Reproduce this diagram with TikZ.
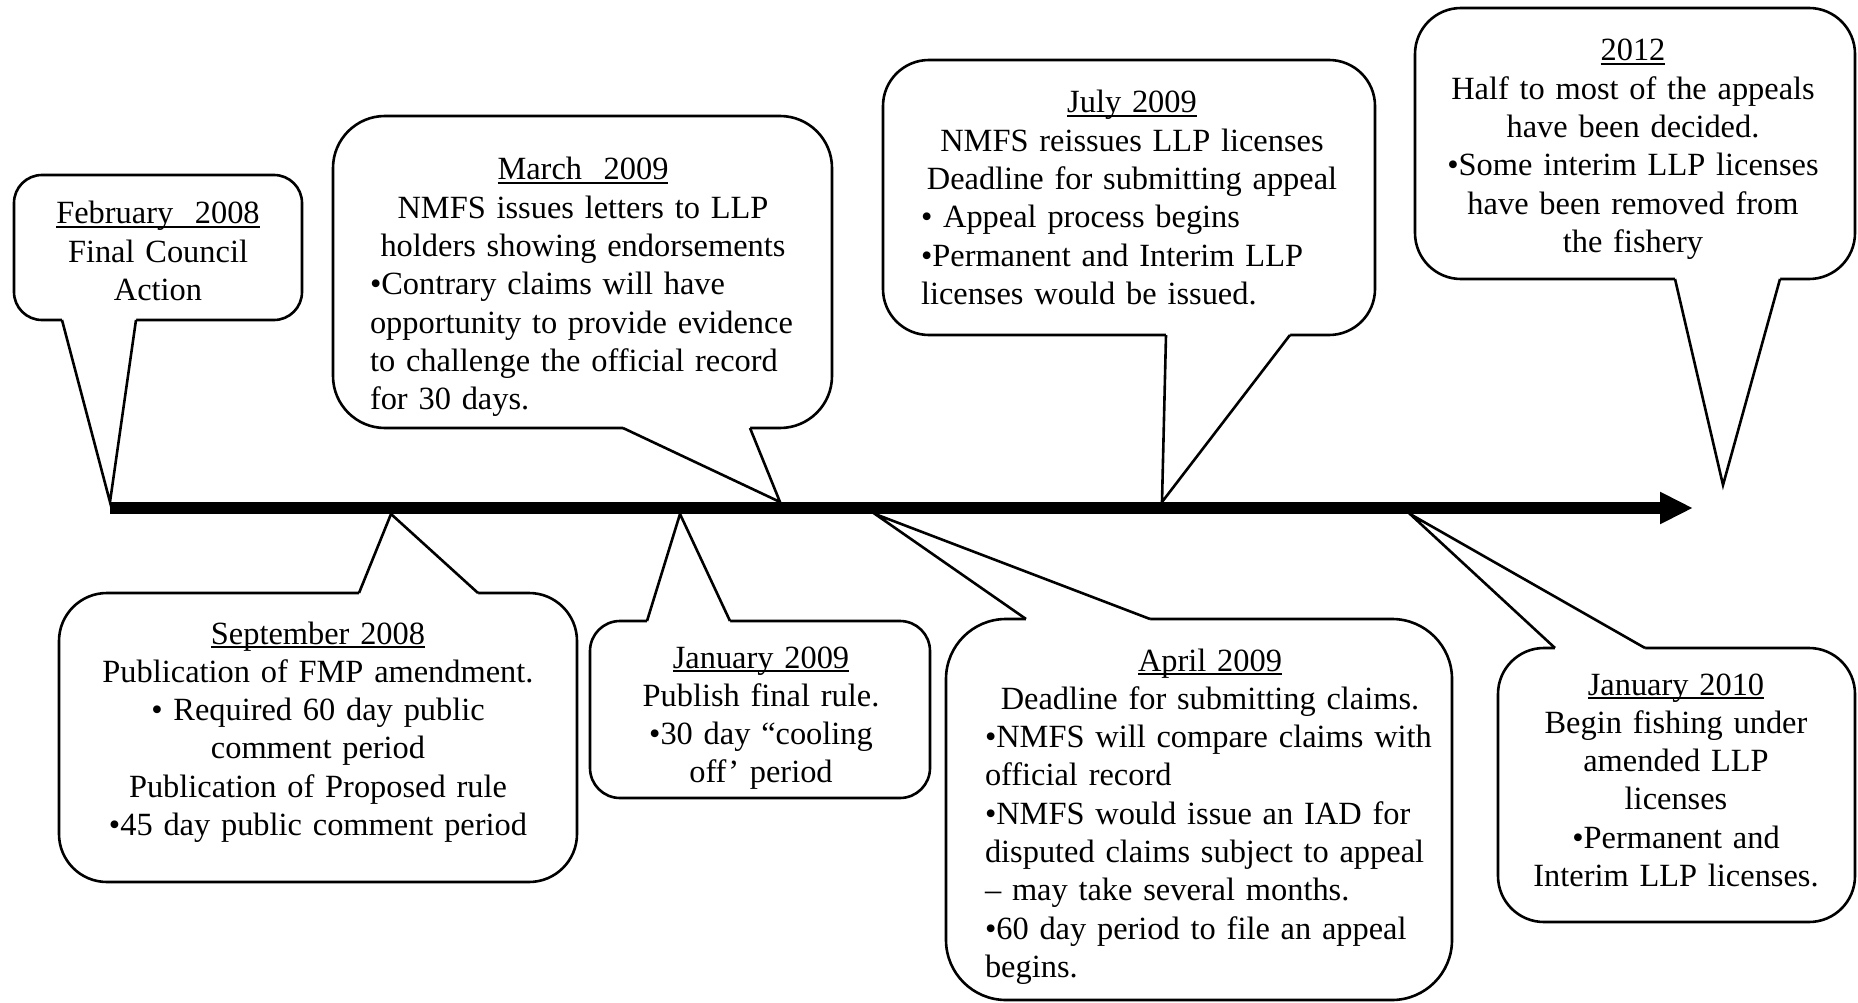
\documentclass[tikz,border=0pt]{standalone}
\usepackage{fontspec}
\setmainfont{Liberation Serif}
\usetikzlibrary{arrows.meta}
\newcommand\ulx[1]{\setbox0=\hbox{#1}\rlap{\rule[-4pt]{\wd0}{1.8pt}}\box0}
\tikzset{
  bubble/.style={draw=black, fill=white, line width=2.6pt},
  ptr/.style={draw=black, line width=2.6pt, line join=miter},
  txt/.style={anchor=base, inner sep=0pt, font=\fontsize{32.4}{38.3}\selectfont, text width=#1},
  timeline/.style={line width=12pt, -{Triangle[length=33pt,width=30pt]}},
}
\begin{document}
\begin{tikzpicture}[x=1pt,y=-1pt]
\useasboundingbox (0,0) rectangle (1858,1003);

% ---------- February 2008 ----------
\coordinate (feb-b1) at (62,320);
\coordinate (feb-tip) at (110,502);
\coordinate (feb-b2) at (136,320);
\draw[bubble, rounded corners=28pt] (14,175) rectangle (302,320);
\fill[white] (feb-b1) -- (feb-tip) -- (feb-b2) -- ([yshift=4pt]feb-b2) -- ([yshift=4pt]feb-b1) -- cycle;
\draw[ptr] (feb-b1) -- (feb-tip) -- (feb-b2);
\node[txt=280pt] (feb) at (158,224) {\centering\ulx{February~~2008}\\Final Council\\Action\par};

% ---------- March 2009 ----------
\coordinate (mar-b1) at (623,428);
\coordinate (mar-tip) at (780,502);
\coordinate (mar-b2) at (750,428);
\draw[bubble, rounded corners=52pt] (333,116) rectangle (832,428);
\fill[white] (mar-b1) -- (mar-tip) -- (mar-b2) -- ([yshift=4pt]mar-b2) -- ([yshift=4pt]mar-b1) -- cycle;
\draw[ptr] (mar-b1) -- (mar-tip) -- (mar-b2);
\node[txt=426pt] (mar) at (583,180) {\centering\ulx{March~~2009}\\NMFS issues letters to LLP\\holders showing endorsements\par\raggedright •Contrary claims will have\\opportunity to provide evidence\\to challenge the official record\\for 30 days.\par};

% ---------- July 2009 ----------
\coordinate (jul-b1) at (1166,335);
\coordinate (jul-tip) at (1162,502);
\coordinate (jul-b2) at (1290,335);
\draw[bubble, rounded corners=46pt] (883,60) rectangle (1375,335);
\fill[white] (jul-b1) -- (jul-tip) -- (jul-b2) -- ([yshift=4pt]jul-b2) -- ([yshift=4pt]jul-b1) -- cycle;
\draw[ptr] (jul-b1) -- (jul-tip) -- (jul-b2);
\node[txt=422pt] (jul) at (1132,113) {\centering\ulx{July 2009}\\NMFS reissues LLP licenses\\Deadline for submitting appeal\par\raggedright • Appeal process begins\\•Permanent and Interim LLP\\licenses would be issued.\par};

% ---------- 2012 ----------
\coordinate (y12-b1) at (1675,279);
\coordinate (y12-tip) at (1723,485);
\coordinate (y12-b2) at (1780,279);
\draw[bubble, rounded corners=46pt] (1415,8) rectangle (1855,279);
\fill[white] (y12-b1) -- (y12-tip) -- (y12-b2) -- ([yshift=4pt]y12-b2) -- ([yshift=4pt]y12-b1) -- cycle;
\draw[ptr] (y12-b1) -- (y12-tip) -- (y12-b2);
\node[txt=420pt] (y12) at (1633,61) {\centering\ulx{2012}\\Half to most of the appeals\\have been decided.\\•Some interim LLP licenses\\have been removed from\\the fishery\par};

% ---------- September 2008 ----------
\coordinate (sep-b1) at (359,593);
\coordinate (sep-tip) at (391,514);
\coordinate (sep-b2) at (478,593);
\draw[bubble, rounded corners=48pt] (59,593) rectangle (577,882);
\fill[white] (sep-b1) -- (sep-tip) -- (sep-b2) -- ([yshift=-4pt]sep-b2) -- ([yshift=-4pt]sep-b1) -- cycle;
\draw[ptr] (sep-b1) -- (sep-tip) -- (sep-b2);
\node[txt=480pt] (sep) at (318,644) {\centering\ulx{September 2008}\\Publication of FMP amendment.\\• Required 60 day public\\comment period\\Publication of Proposed rule\\•45 day public comment period\par};

% ---------- January 2009 ----------
\coordinate (j09-b1) at (647,621);
\coordinate (j09-tip) at (680,514);
\coordinate (j09-b2) at (730,621);
\draw[bubble, rounded corners=30pt] (590,621) rectangle (930,798);
\fill[white] (j09-b1) -- (j09-tip) -- (j09-b2) -- ([yshift=-4pt]j09-b2) -- ([yshift=-4pt]j09-b1) -- cycle;
\draw[ptr] (j09-b1) -- (j09-tip) -- (j09-b2);
\node[txt=320pt] (j09) at (761,668) {\centering\ulx{January 2009}\\Publish final rule.\\•30 day “cooling\\off’ period\par};

% ---------- April 2009 ----------
\coordinate (apr-b1) at (1026,619);
\coordinate (apr-tip) at (875,514);
\coordinate (apr-b2) at (1150,619);
\draw[bubble, rounded corners=60pt] (946,619) rectangle (1452,1000);
\fill[white] (apr-b1) -- (apr-tip) -- (apr-b2) -- ([yshift=-4pt]apr-b2) -- ([yshift=-4pt]apr-b1) -- cycle;
\draw[ptr] (apr-b1) -- (apr-tip) -- (apr-b2);
\node[txt=450pt] (apr) at (1210,671) {\centering\ulx{April 2009}\\Deadline for submitting claims.\par\raggedright •NMFS will compare claims with\\official record\\•NMFS would issue an IAD for\\disputed claims subject to appeal\\– may take several months.\\•60 day period to file an appeal\\begins.\par};

% ---------- January 2010 ----------
\coordinate (j10-b1) at (1555,648);
\coordinate (j10-tip) at (1410,514);
\coordinate (j10-b2) at (1645,648);
\draw[bubble, rounded corners=46pt] (1498,648) rectangle (1855,922);
\fill[white] (j10-b1) -- (j10-tip) -- (j10-b2) -- ([yshift=-4pt]j10-b2) -- ([yshift=-4pt]j10-b1) -- cycle;
\draw[ptr] (j10-b1) -- (j10-tip) -- (j10-b2);
\node[txt=340pt] (j10) at (1676,695) {\centering\ulx{January 2010}\\Begin fishing under\\amended LLP\\licenses\\•Permanent and\\Interim LLP licenses.\par};

% ---------- timeline ----------
\coordinate (tl-start) at (110,508);
\coordinate (tl-end) at (1693,508);
\draw[timeline] (tl-start) -- (tl-end);
\end{tikzpicture}
\end{document}
